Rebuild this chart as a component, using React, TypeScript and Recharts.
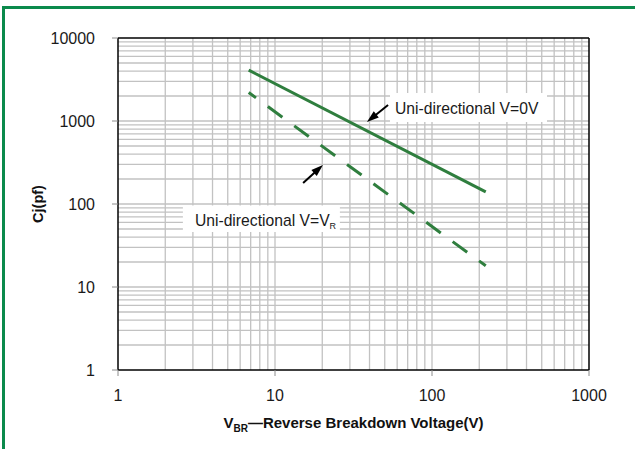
import React from 'react';
import { LineChart, Line, XAxis, YAxis, ReferenceLine, ReferenceArea, Label } from 'recharts';

// breakdown voltage (V) and junction capacitance (pF)
const voltages = [6.8, 220];
const capZeroBias = [4100, 140];
const capReverseBias = [2200, 18];

const xTicks = [1, 10, 100, 1000];
const yTicks = [1, 10, 100, 1000, 10000];
const minorSteps = [2, 3, 4, 5, 6, 7, 8, 9];

const data = voltages.map((v, i) => ({ v, zero: capZeroBias[i], rev: capReverseBias[i] }));

// log grid: every 1..9 step inside each decade
const decadeGrid = (ticks: number[]) =>
  ticks.flatMap((t, i) => (i < ticks.length - 1 ? [t, ...minorSteps.map((m) => m * t)] : [t]));
const gridX = decadeGrid(xTicks).slice(1, -1);
const gridY = decadeGrid(yTicks).slice(1, -1);

// callouts, in data units
const zeroBox = { x1: 54, x2: 540, y1: 973, y2: 2175 };
const zeroArrow = [{ x: 52.5, y: 1560 }, { x: 38.5, y: 973 }];
const revBox = { x1: 2.59, x2: 25.9, y1: 46, y2: 96 };
const revArrow = [{ x: 15.1, y: 179 }, { x: 20.2, y: 295 }];

const GREEN = '#2f7e3e';
const GRID = '#c2c2c2';
const FONT = '"Liberation Sans", Arial, sans-serif';

const Arrow = (p: any) => {
  const { x1, y1, x2, y2 } = p;
  const dx = x2 - x1;
  const dy = y2 - y1;
  const len = Math.sqrt(dx * dx + dy * dy) || 1;
  const ux = dx / len;
  const uy = dy / len;
  const head = 12;
  const half = 4;
  const bx = x2 - ux * head;
  const by = y2 - uy * head;
  return (
    <g>
      <line x1={x1} y1={y1} x2={bx + ux * 2} y2={by + uy * 2} stroke="#000" strokeWidth={2} />
      <polygon
        points={`${x2},${y2} ${bx - uy * half},${by + ux * half} ${bx + uy * half},${by - ux * half}`}
        fill="#000"
      />
    </g>
  );
};

export default function App() {
  return (
    <div style={{ position: 'absolute', left: 0, top: 0, width: 635, height: 449, background: '#fff', overflow: 'hidden' }}>
      <div
        style={{
          position: 'absolute',
          left: 2,
          top: 6,
          width: 700,
          height: 500,
          borderTop: '3px solid #0b8a4c',
          borderLeft: '3px solid #0b8a4c',
        }}
      />
      <div style={{ position: 'absolute', left: 0, top: 0 }}>
        <LineChart width={635} height={449} data={data} margin={{ top: 38, right: 46, bottom: 49, left: 38 }}>
          {gridX.map((v) => (
            <ReferenceLine key={`gx-${v}`} x={v} stroke={GRID} strokeWidth={1.3} zIndex={-100} />
          ))}
          {gridY.map((v) => (
            <ReferenceLine key={`gy-${v}`} y={v} stroke={GRID} strokeWidth={1.3} zIndex={-100} />
          ))}
          <XAxis
            dataKey="v"
            type="number"
            scale="log"
            domain={[1, 1000]}
            ticks={xTicks}
            allowDataOverflow
            height={30}
            tickSize={6}
            tickMargin={14}
            axisLine={{ stroke: '#000', strokeWidth: 1.5 }}
            tickLine={{ stroke: '#8c8c8c' }}
            tick={{ fontSize: 16, fill: '#1a1a1a', fontFamily: FONT }}
          >
            <Label
              content={(p: any) => {
                const vb = p.viewBox || {};
                return (
                  <text
                    x={vb.x + vb.width / 2}
                    y={vb.y + 58}
                    textAnchor="middle"
                    fontFamily={FONT}
                    fontWeight="bold"
                    fontSize={15}
                    fill="#111"
                  >
                    <tspan>V</tspan>
                    <tspan fontSize={10} dy={4}>BR</tspan>
                    <tspan dy={-4}>—Reverse Breakdown Voltage(V)</tspan>
                  </text>
                );
              }}
            />
          </XAxis>
          <YAxis
            type="number"
            scale="log"
            domain={[1, 10000]}
            ticks={yTicks}
            allowDataOverflow
            width={80}
            tickSize={6}
            tickMargin={17}
            axisLine={{ stroke: '#000', strokeWidth: 1.5 }}
            tickLine={{ stroke: '#8c8c8c' }}
            tick={{ fontSize: 16, fill: '#1a1a1a', fontFamily: FONT }}
          >
            <Label
              content={(p: any) => {
                const vb = p.viewBox || {};
                const cx = vb.x;
                const cy = 204;
                return (
                  <text
                    x={cx}
                    y={cy}
                    transform={`rotate(-90 ${cx} ${cy})`}
                    textAnchor="middle"
                    dominantBaseline="central"
                    fontFamily={FONT}
                    fontWeight="bold"
                    fontSize={14.5}
                    fill="#111"
                  >
                    Cj(pf)
                  </text>
                );
              }}
            />
          </YAxis>
          <ReferenceArea
            {...zeroBox}
            fill="#fff"
            fillOpacity={1}
            stroke="none"
            label={(p: any) => {
              const vb = p.viewBox || p;
              return (
                <text x={vb.x + 5} y={vb.y + vb.height / 2 + 6.5} fontFamily={FONT} fontSize={15.7} fill="#1a1a1a">
                  Uni-directional V=0V
                </text>
              );
            }}
          />
          <ReferenceArea
            {...revBox}
            fill="#fff"
            fillOpacity={1}
            stroke="none"
            label={(p: any) => {
              const vb = p.viewBox || p;
              return (
                <text x={vb.x + 12} y={vb.y + vb.height / 2 + 7.5} fontFamily={FONT} fontSize={15.7} fill="#1a1a1a">
                  <tspan>Uni-directional V=V</tspan>
                  <tspan fontSize={9} dy={3}>R</tspan>
                </text>
              );
            }}
          />
          <ReferenceLine y={10000} stroke="#000" strokeWidth={1.5} />
          <ReferenceLine x={1000} stroke="#000" strokeWidth={1.5} />
          <ReferenceLine segment={zeroArrow} shape={Arrow} />
          <ReferenceLine segment={revArrow} shape={Arrow} />
          <Line
            dataKey="zero"
            stroke={GREEN}
            strokeWidth={3}
            dot={false}
            activeDot={false}
            isAnimationActive={false}
          />
          <Line
            dataKey="rev"
            stroke={GREEN}
            strokeWidth={3}
            strokeDasharray="18 14.7"
            strokeDashoffset={9}
            dot={false}
            activeDot={false}
            isAnimationActive={false}
          />
        </LineChart>
      </div>
    </div>
  );
}
